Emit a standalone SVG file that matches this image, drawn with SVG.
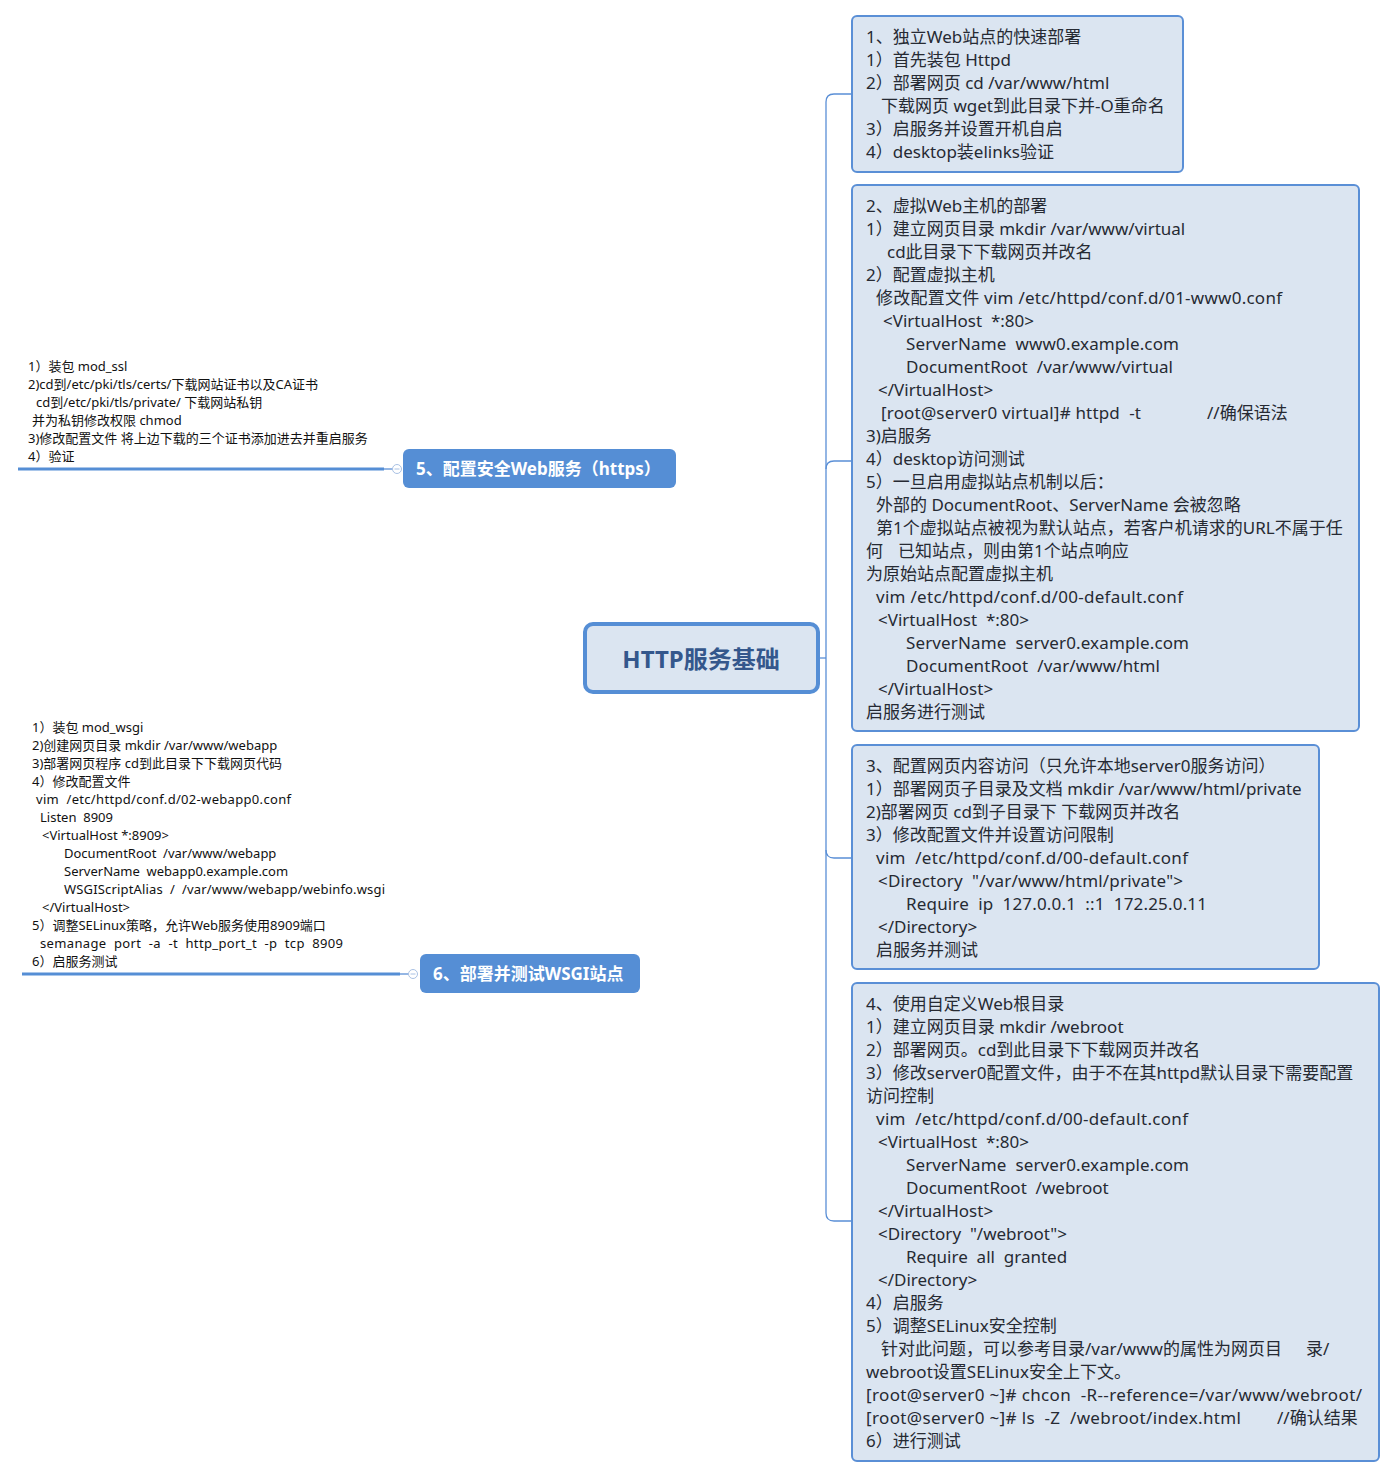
<svg xmlns="http://www.w3.org/2000/svg" width="1396" height="1478" viewBox="0 0 1396 1478">
<style>
.t{font-family:"Noto Sans","Noto Sans CJK SC",sans-serif;font-size:17px;fill:#262a33;white-space:pre}
.s{font-family:"Noto Sans","Noto Sans CJK SC",sans-serif;font-size:13px;fill:#111;white-space:pre}
.box{fill:#dbe5f1;stroke:#5a8fd6;stroke-width:2}
.lab{fill:#558ed5}
.lt{font-family:"Noto Sans","Noto Sans CJK SC",sans-serif;font-size:17px;font-weight:bold;fill:#fff}
.con{fill:none;stroke:#5a8fd6;stroke-width:1.3}
.thick{fill:none;stroke:#558ed5;stroke-width:3}
.knob{fill:#fff;stroke:#a9c1e4;stroke-width:1}
</style>
<rect width="1396" height="1478" fill="#fff"/>
<g id="connectors">
<path class="con" d="M852,94 H834 Q826,94 826,102 V1213 Q826,1221 834,1221 H852"/>
<path class="con" d="M826,469 Q826,461 834,461 H852"/>
<path class="con" d="M826,850 Q826,858 834,858 H852"/>
<path class="con" d="M819,658 H826"/>
<path class="thick" d="M18,469 H384"/>
<path class="con" d="M384,469 H393"/>
<path class="thick" d="M22,974 H400"/>
<path class="con" d="M400,974 H409"/>
</g>
<g id="root">
<rect x="585" y="624" width="233" height="68" rx="8" fill="#dbe5f1" stroke="#558ed5" stroke-width="4"/>
<text x="701" y="668" text-anchor="middle" style="font-family:'Noto Sans','Noto Sans CJK SC',sans-serif;font-size:24px;font-weight:bold;fill:#34578c">HTTP服务基础</text>
</g>
<g id="node1">
<rect class="box" x="852" y="16" width="331" height="156" rx="5"/>
<text class="t" x="866" y="43">1、独立Web站点的快速部署</text>
<text class="t" x="866" y="66">1）首先装包 Httpd</text>
<text class="t" x="866" y="89">2）部署网页 cd /var/www/html</text>
<text class="t" x="881" y="112">下载网页 wget到此目录下并-O重命名</text>
<text class="t" x="866" y="135">3）启服务并设置开机自启</text>
<text class="t" x="866" y="158">4）desktop装elinks验证</text>
</g>
<g id="node2">
<rect class="box" x="852" y="185" width="507" height="546" rx="5"/>
<text class="t" x="866" y="212">2、虚拟Web主机的部署</text>
<text class="t" x="866" y="235">1）建立网页目录 mkdir /var/www/virtual</text>
<text class="t" x="887" y="258">cd此目录下下载网页并改名</text>
<text class="t" x="866" y="281">2）配置虚拟主机</text>
<text class="t" x="876" y="304" textLength="406" lengthAdjust="spacing">修改配置文件 vim /etc/httpd/conf.d/01-www0.conf</text>
<text class="t" x="883" y="327">&lt;VirtualHost  *:80&gt;</text>
<text class="t" x="906" y="350" textLength="273" lengthAdjust="spacing">ServerName  www0.example.com</text>
<text class="t" x="906" y="373" textLength="267" lengthAdjust="spacing">DocumentRoot  /var/www/virtual</text>
<text class="t" x="878" y="396">&lt;/VirtualHost&gt;</text>
<text class="t" x="881" y="419"><tspan textLength="260" lengthAdjust="spacing">[root@server0 virtual]# httpd  -t</tspan><tspan x="1207">//确保语法</tspan></text>
<text class="t" x="866" y="442">3)启服务</text>
<text class="t" x="866" y="465">4）desktop访问测试</text>
<text class="t" x="866" y="488">5）一旦启用虚拟站点机制以后：</text>
<text class="t" x="876" y="511">外部的 DocumentRoot、ServerName 会被忽略</text>
<text class="t" x="876" y="534">第1个虚拟站点被视为默认站点，若客户机请求的URL不属于任</text>
<text class="t" x="866" y="557">何<tspan x="898">已知站点，则由第1个站点响应</tspan></text>
<text class="t" x="866" y="580">为原始站点配置虚拟主机</text>
<text class="t" x="876" y="603" textLength="307" lengthAdjust="spacing">vim /etc/httpd/conf.d/00-default.conf</text>
<text class="t" x="878" y="626">&lt;VirtualHost  *:80&gt;</text>
<text class="t" x="906" y="649" textLength="283" lengthAdjust="spacing">ServerName  server0.example.com</text>
<text class="t" x="906" y="672" textLength="254" lengthAdjust="spacing">DocumentRoot  /var/www/html</text>
<text class="t" x="878" y="695">&lt;/VirtualHost&gt;</text>
<text class="t" x="866" y="718">启服务进行测试</text>
</g>
<g id="node3">
<rect class="box" x="852" y="745" width="467" height="224" rx="5"/>
<text class="t" x="866" y="772">3、配置网页内容访问（只允许本地server0服务访问）</text>
<text class="t" x="866" y="795">1）部署网页子目录及文档 mkdir /var/www/html/private</text>
<text class="t" x="866" y="818">2)部署网页 cd到子目录下 下载网页并改名</text>
<text class="t" x="866" y="841">3）修改配置文件并设置访问限制</text>
<text class="t" x="876" y="864" textLength="312" lengthAdjust="spacing">vim  /etc/httpd/conf.d/00-default.conf</text>
<text class="t" x="878" y="887" textLength="305" lengthAdjust="spacing">&lt;Directory  "/var/www/html/private"&gt;</text>
<text class="t" x="906" y="910" textLength="301" lengthAdjust="spacing">Require  ip  127.0.0.1  ::1  172.25.0.11</text>
<text class="t" x="878" y="933">&lt;/Directory&gt;</text>
<text class="t" x="876" y="956">启服务并测试</text>
</g>
<g id="node4">
<rect class="box" x="852" y="983" width="527" height="478" rx="5"/>
<text class="t" x="866" y="1010">4、使用自定义Web根目录</text>
<text class="t" x="866" y="1033">1）建立网页目录 mkdir /webroot</text>
<text class="t" x="866" y="1056">2）部署网页。cd到此目录下下载网页并改名</text>
<text class="t" x="866" y="1079">3）修改server0配置文件，由于不在其httpd默认目录下需要配置</text>
<text class="t" x="866" y="1102">访问控制</text>
<text class="t" x="876" y="1125" textLength="312" lengthAdjust="spacing">vim  /etc/httpd/conf.d/00-default.conf</text>
<text class="t" x="878" y="1148">&lt;VirtualHost  *:80&gt;</text>
<text class="t" x="906" y="1171" textLength="283" lengthAdjust="spacing">ServerName  server0.example.com</text>
<text class="t" x="906" y="1194">DocumentRoot  /webroot</text>
<text class="t" x="878" y="1217">&lt;/VirtualHost&gt;</text>
<text class="t" x="878" y="1240">&lt;Directory  "/webroot"&gt;</text>
<text class="t" x="906" y="1263">Require  all  granted</text>
<text class="t" x="878" y="1286">&lt;/Directory&gt;</text>
<text class="t" x="866" y="1309">4）启服务</text>
<text class="t" x="866" y="1332">5）调整SELinux安全控制</text>
<text class="t" x="881" y="1355">针对此问题，可以参考目录/var/www的属性为网页目<tspan x="1306">录/</tspan></text>
<text class="t" x="866" y="1378">webroot设置SELinux安全上下文。</text>
<text class="t" x="866" y="1401" textLength="496" lengthAdjust="spacing">[root@server0 ~]# chcon  -R--reference=/var/www/webroot/</text>
<text class="t" x="866" y="1424"><tspan textLength="375" lengthAdjust="spacing">[root@server0 ~]# ls  -Z  /webroot/index.html</tspan><tspan x="1277">//确认结果</tspan></text>
<text class="t" x="866" y="1447">6）进行测试</text>
</g>
<g id="node5">
<text class="s" x="28" y="371">1）装包 mod_ssl</text>
<text class="s" x="28" y="389">2)cd到/etc/pki/tls/certs/下载网站证书以及CA证书</text>
<text class="s" x="36" y="407">cd到/etc/pki/tls/private/ 下载网站私钥</text>
<text class="s" x="32" y="425">并为私钥修改权限 chmod</text>
<text class="s" x="28" y="443">3)修改配置文件 将上边下载的三个证书添加进去并重启服务</text>
<text class="s" x="28" y="461">4）验证</text>
<circle class="knob" cx="397" cy="469" r="4.5"/>
<path d="M394.5,469 H399.5" stroke="#a9c1e4" stroke-width="1"/>
<rect class="lab" x="403" y="449" width="273" height="39" rx="6"/>
<text class="lt" x="416" y="475">5、配置安全Web服务（https）</text>
</g>
<g id="node6">
<text class="s" x="32" y="732">1）装包 mod_wsgi</text>
<text class="s" x="32" y="750">2)创建网页目录 mkdir /var/www/webapp</text>
<text class="s" x="32" y="768">3)部署网页程序 cd到此目录下下载网页代码</text>
<text class="s" x="32" y="786">4）修改配置文件</text>
<text class="s" x="36" y="804" textLength="255" lengthAdjust="spacing">vim  /etc/httpd/conf.d/02-webapp0.conf</text>
<text class="s" x="40" y="822">Listen  8909</text>
<text class="s" x="42" y="840">&lt;VirtualHost *:8909&gt;</text>
<text class="s" x="64" y="858">DocumentRoot  /var/www/webapp</text>
<text class="s" x="64" y="876">ServerName  webapp0.example.com</text>
<text class="s" x="64" y="894" textLength="321" lengthAdjust="spacing">WSGIScriptAlias  /  /var/www/webapp/webinfo.wsgi</text>
<text class="s" x="42" y="912">&lt;/VirtualHost&gt;</text>
<text class="s" x="32" y="930">5）调整SELinux策略，允许Web服务使用8909端口</text>
<text class="s" x="40" y="948" textLength="303" lengthAdjust="spacing">semanage  port  -a  -t  http_port_t  -p  tcp  8909</text>
<text class="s" x="32" y="966">6）启服务测试</text>
<circle class="knob" cx="413" cy="974" r="4.5"/>
<path d="M410.5,974 H415.5" stroke="#a9c1e4" stroke-width="1"/>
<rect class="lab" x="420" y="954" width="220" height="39" rx="6"/>
<text class="lt" x="433" y="980">6、部署并测试WSGI站点</text>
</g>
</svg>
